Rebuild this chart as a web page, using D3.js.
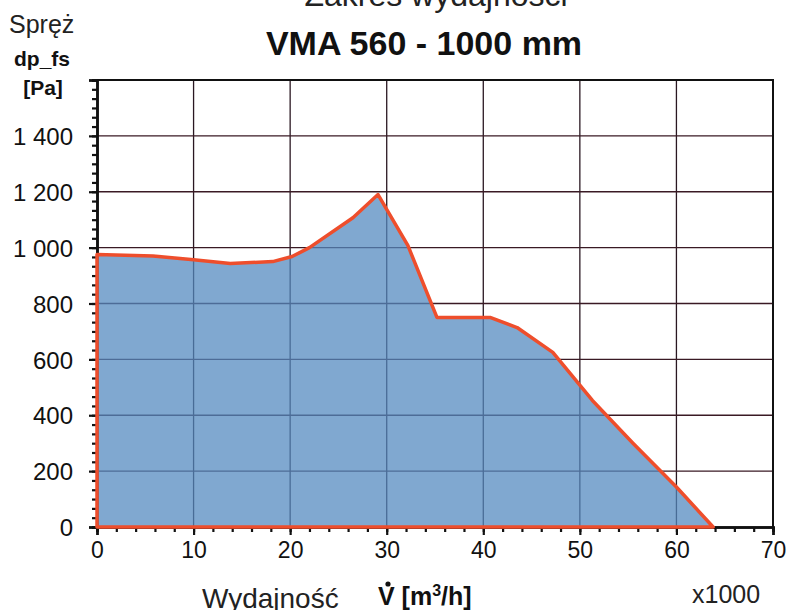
<!DOCTYPE html>
<html>
  <head>
    <meta charset="UTF-8">
    <title>Zakres wydajności</title>
    <style>
      body {margin: 0; background: #fff;}
      svg {display: block; font-family: "Liberation Sans", Arial, sans-serif;}
      .tick text {fill: #111;}
    </style>
  </head>
  <body>
    <div id="chart"></div>
    <script src="https://d3js.org/d3.v7.min.js"></script>
    <script>
      // flow (x1000 m3/h) and pressure (Pa)
      const flow = [0, 5.8, 10, 13.8, 18.2, 20.2, 22, 26.5, 29.1, 32.2, 35.2, 40.7, 43.5, 47.2, 51.3, 55.5, 60, 63.8];
      const pressure = [975, 970, 957, 943, 950, 968, 1000, 1107, 1190, 1007, 750, 750, 714, 625, 453, 300, 143, 0];

      const xTicks = [0, 10, 20, 30, 40, 50, 60, 70];
      const yTicks = [0, 200, 400, 600, 800, 1000, 1200, 1400, 1600];
      const yTickLabels = ["0", "200", "400", "600", "800", "1 000", "1 200", "1 400", ""];

      const width = 789, height = 610;
      const mLeft = 97, mRight = 773, mTop = 80, mBottom = 527;

      const svg = d3.select("#chart").append("svg").attr("width", width).attr("height", height);

      const x = d3.scaleLinear().domain([0, 70]).range([mLeft, mRight]);
      const y = d3.scaleLinear().domain([0, 1600]).range([mBottom, mTop]);

      const points = flow.map((f, i) => ({f: f, p: pressure[i]}));

      // grid (drawn under a slightly transparent fill, so it tints blue inside)
      const grid = svg.append("g");
      grid.selectAll("line.v").data(xTicks.slice(1, -1)).join("line").attr("class", "v")
        .attr("x1", d => x(d)).attr("x2", d => x(d)).attr("y1", mTop).attr("y2", mBottom)
        .attr("stroke", "#2a1822").attr("stroke-width", 1.3);
      grid.selectAll("line.h").data(yTicks.slice(1, -1)).join("line").attr("class", "h")
        .attr("y1", d => y(d)).attr("y2", d => y(d)).attr("x1", mLeft).attr("x2", mRight)
        .attr("stroke", "#3a1a24").attr("stroke-width", 1.3);

      // frame top + right
      svg.append("path")
        .attr("d", `M${mLeft},${mTop}H${mRight}V${mBottom}`)
        .attr("fill", "none").attr("stroke", "#111").attr("stroke-width", 2);

      // axes
      const xMinor = svg.append("g").attr("transform", `translate(0,${mBottom})`)
        .call(d3.axisBottom(x).tickValues(d3.range(0, 71, 2)).tickSize(5).tickFormat(""));
      const xMajor = svg.append("g").attr("transform", `translate(0,${mBottom})`)
        .call(d3.axisBottom(x).tickValues(xTicks).tickSize(8).tickPadding(7));
      const yMinor = svg.append("g").attr("transform", `translate(${mLeft},0)`)
        .call(d3.axisLeft(y).tickValues(d3.range(0, 1601, 200 / 6)).tickSize(5).tickFormat(""));
      const yMajor = svg.append("g").attr("transform", `translate(${mLeft},0)`)
        .call(d3.axisLeft(y).tickValues(yTicks).tickSize(8).tickPadding(16).tickFormat((d, i) => yTickLabels[i]));

      [xMinor, xMajor, yMinor, yMajor].forEach(g => {
        g.select(".domain").attr("stroke", "#111").attr("stroke-width", 2.5);
        g.selectAll(".tick line").attr("stroke", "#111").attr("stroke-width", 2.2);
      });
      xMajor.selectAll("text").attr("font-size", 23).attr("font-family", "Liberation Sans, Arial");
      yMajor.selectAll("text").attr("font-size", 24).attr("font-family", "Liberation Sans, Arial").attr("dy", "0.36em");

      // working range area
      const area = d3.area().x(d => x(d.f)).y0(y(0)).y1(d => y(d.p));
      svg.append("path").datum(points)
        .attr("d", area)
        .attr("fill", "rgb(84,137,191)").attr("fill-opacity", 0.74)
        .attr("stroke", "#ee4e2c").attr("stroke-width", 3.5).attr("stroke-linejoin", "round");

      // texts
      svg.append("text").attr("x", 436).attr("y", 6).attr("text-anchor", "middle")
        .attr("font-size", 32).attr("fill", "#222").text("Zakres wydajności");
      svg.append("text").attr("x", 424).attr("y", 55).attr("text-anchor", "middle")
        .attr("font-size", 34).attr("font-weight", "bold").attr("fill", "#111").text("VMA 560 - 1000 mm");
      svg.append("text").attr("x", 9).attr("y", 33)
        .attr("font-size", 25).attr("fill", "#222").text("Spręż");
      svg.append("text").attr("x", 42).attr("y", 66).attr("text-anchor", "middle")
        .attr("font-size", 21).attr("font-weight", "bold").attr("fill", "#111").text("dp_fs");
      svg.append("text").attr("x", 43).attr("y", 95).attr("text-anchor", "middle")
        .attr("font-size", 21).attr("font-weight", "bold").attr("fill", "#111").text("[Pa]");

      svg.append("text").attr("x", 202).attr("y", 608)
        .attr("font-size", 28).attr("fill", "#222").text("Wydajność");
      const vt = svg.append("text").attr("x", 378).attr("y", 605)
        .attr("font-size", 25).attr("font-weight", "bold").attr("fill", "#111");
      vt.append("tspan").text("V [m");
      vt.append("tspan").attr("font-size", 16).attr("dy", -9).text("3");
      vt.append("tspan").attr("dy", 9).text("/h]");
      svg.append("circle").attr("cx", 388).attr("cy", 584).attr("r", 2.6).attr("fill", "#111");
      svg.append("text").attr("x", 692).attr("y", 603)
        .attr("font-size", 25).attr("fill", "#222").text("x1000");
    </script>
  </body>
</html>
